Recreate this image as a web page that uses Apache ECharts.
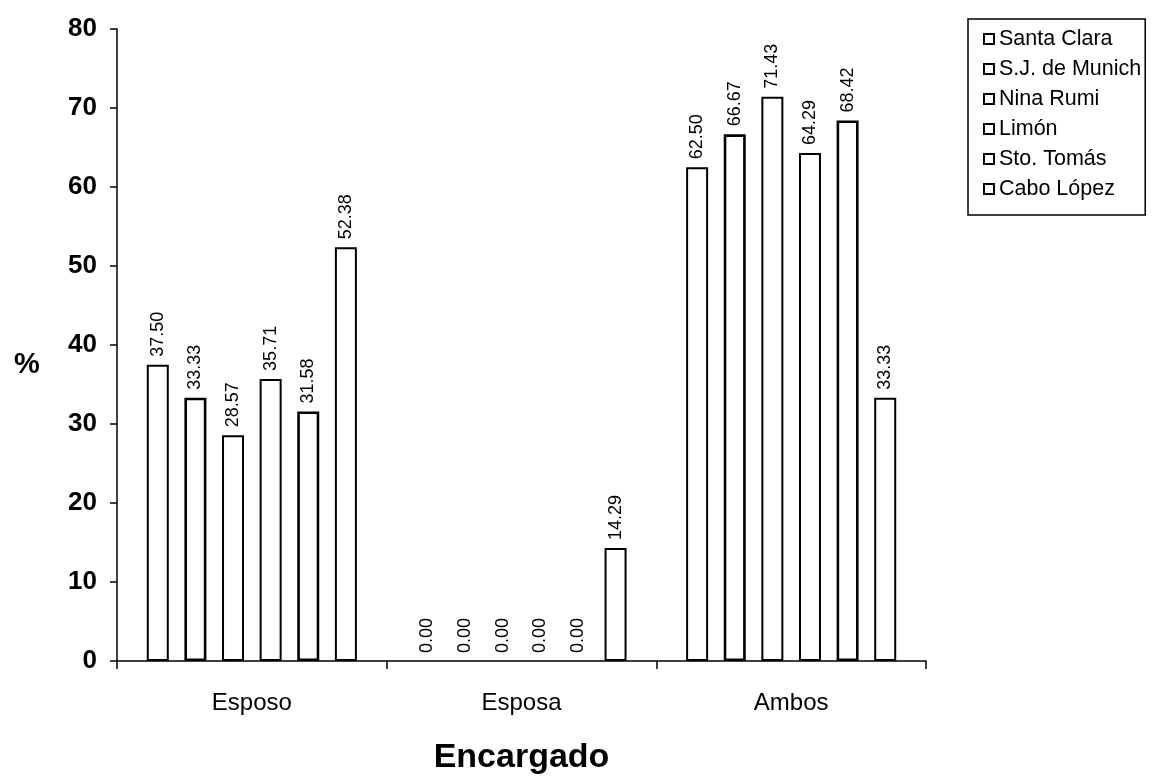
<!DOCTYPE html>
<html>
<head>
<meta charset="utf-8">
<script src="https://cdn.jsdelivr.net/npm/echarts@6/dist/echarts.min.js"></script>
<style>
  html, body { margin: 0; padding: 0; background: #ffffff; }
  #chart { width: 1175px; height: 780px; }
</style>
</head>
<body>
<div id="chart"></div>
<script>
// Who is in charge, by community (%)
const categories = ['Esposo', 'Esposa', 'Ambos'];
const seriesNames = ['Santa Clara', 'S.J. de Munich', 'Nina Rumi', 'Limón', 'Sto. Tomás', 'Cabo López'];
const santaClara = [37.50, 0.00, 62.50];
const sjMunich = [33.33, 0.00, 66.67];
const ninaRumi = [28.57, 0.00, 71.43];
const limon = [35.71, 0.00, 64.29];
const stoTomas = [31.58, 0.00, 68.42];
const caboLopez = [52.38, 14.29, 33.33];
const seriesValues = [santaClara, sjMunich, ninaRumi, limon, stoTomas, caboLopez];

const FONT = '"Liberation Sans", Arial, sans-serif';

// zero-height bars get no outline, only their value label
const toData = values => values.map(v => v === 0 ? { value: v, itemStyle: { borderWidth: 0 } } : v);

const series = seriesNames.map((name, i) => ({
  name: name,
  type: 'bar',
  data: toData(seriesValues[i]),
  barWidth: 22,
  barGap: '71%',
  itemStyle: {
    color: '#ffffff',
    borderColor: '#000000',
    borderWidth: (i === 1 || i === 4) ? 2.6 : 2
  },
  label: {
    show: true,
    position: 'top',
    rotate: 90,
    align: 'left',
    verticalAlign: 'middle',
    distance: 8,
    color: '#000000',
    fontFamily: FONT,
    fontSize: 18,
    formatter: p => Number(p.value).toFixed(2)
  },
  emphasis: { disabled: true }
}));

const chart = echarts.init(document.getElementById('chart'), null, { renderer: 'canvas' });
chart.setOption({
  backgroundColor: '#ffffff',
  animation: false,
  grid: { left: 117, right: 249, top: 29, bottom: 116, containLabel: false },
  legend: {
    orient: 'vertical',
    left: 968,
    top: 19,
    padding: [9, 4, 15, 15],
    itemWidth: 10,
    itemHeight: 10,
    itemGap: 8,
    borderColor: '#000000',
    borderWidth: 1.5,
    icon: 'rect',
    textStyle: { fontFamily: FONT, fontSize: 21.5, color: '#000000', lineHeight: 22 },
    data: seriesNames
  },
  xAxis: {
    type: 'category',
    data: categories,
    name: 'Encargado',
    nameLocation: 'middle',
    nameGap: 80,
    nameTextStyle: { fontFamily: FONT, fontSize: 34, fontWeight: 'bold', color: '#000000' },
    axisLine: { lineStyle: { color: '#000000', width: 1.5 } },
    axisTick: { show: true, length: 8, lineStyle: { color: '#000000', width: 1.5 } },
    axisLabel: { margin: 30, fontFamily: FONT, fontSize: 24, color: '#000000' },
    splitLine: { show: false }
  },
  yAxis: {
    type: 'value',
    min: 0,
    max: 80,
    interval: 10,
    axisLine: { show: true, lineStyle: { color: '#000000', width: 1.5 } },
    axisTick: { show: true, inside: false, length: 7, lineStyle: { color: '#000000', width: 1.5 } },
    axisLabel: { margin: 20, fontFamily: FONT, fontSize: 26, fontWeight: 'bold', color: '#000000' },
    splitLine: { show: false }
  },
  graphic: [{
    type: 'text',
    left: 14,
    top: 350,
    style: { text: '%', fontFamily: FONT, fontSize: 29, fontWeight: 'bold', fill: '#000000' }
  }],
  series: series
});
</script>
</body>
</html>
